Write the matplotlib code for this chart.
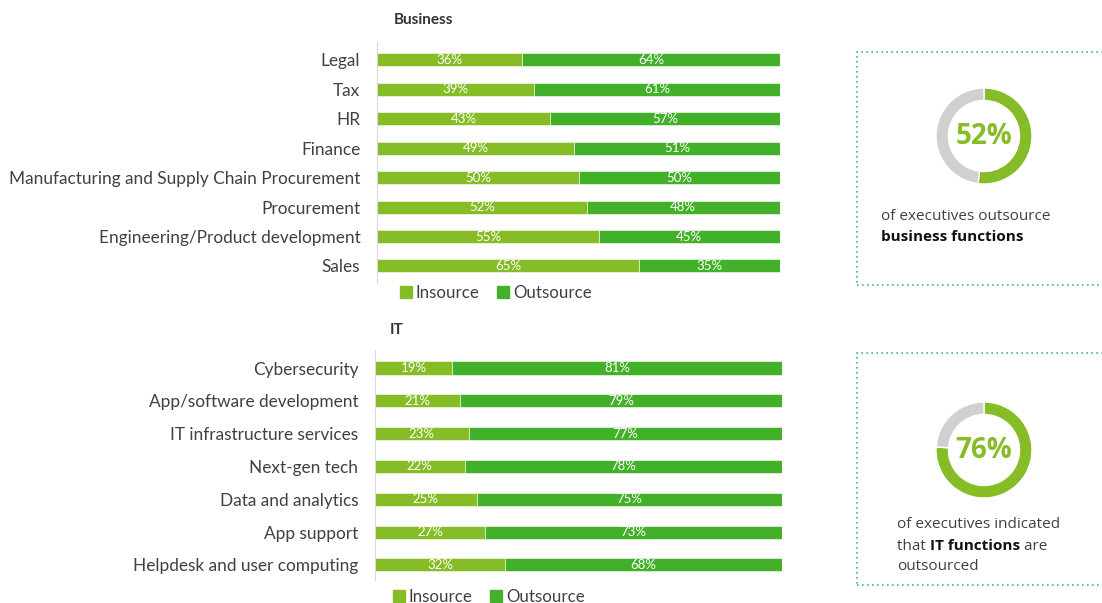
import matplotlib
matplotlib.use("Agg")
import matplotlib.pyplot as plt
from matplotlib.patches import Rectangle, Patch

# data
biz_labels = ["Legal", "Tax", "HR", "Finance", "Manufacturing and Supply Chain Procurement",
              "Procurement", "Engineering/Product development", "Sales"]
biz_in = [36, 39, 43, 49, 50, 52, 55, 65]
biz_out = [64, 61, 57, 51, 50, 48, 45, 35]

it_labels = ["Cybersecurity", "App/software development", "IT infrastructure services",
             "Next-gen tech", "Data and analytics", "App support", "Helpdesk and user computing"]
it_in = [19, 21, 23, 22, 25, 27, 32]
it_out = [81, 79, 77, 78, 75, 73, 68]

donut_biz = [52, 48]
donut_it = [76, 24]

C_IN = "#86BC25"
C_OUT = "#43B02A"
C_GREY = "#D0D0D0"
C_TXT = "#404040"
W, H = 1102, 603

plt.rcParams['font.family'] = ['Lato', 'DejaVu Sans']
fig = plt.figure(figsize=(W / 100, H / 100), dpi=100)


def px(x0, y0, x1, y1):
    # pixel box (top-left origin) -> figure fraction rect
    return [x0 / W, 1 - y1 / H, (x1 - x0) / W, (y1 - y0) / H]


def bars(rect, labels, vin, vout, ylim, h):
    ax = fig.add_axes(rect)
    y = list(range(len(labels)))
    ax.barh(y, vin, height=h, color=C_IN, edgecolor="white", linewidth=0.4)
    ax.barh(y, vout, left=vin, height=h, color=C_OUT, edgecolor="white", linewidth=0.4)
    for i in y:
        ax.text(vin[i] / 2, i, f"{vin[i]}%", ha="center", va="center",
                color="white", fontsize=9.5)
        ax.text(vin[i] + vout[i] / 2, i, f"{vout[i]}%", ha="center", va="center",
                color="white", fontsize=9.5)
    ax.set_xlim(0, 100)
    ax.set_ylim(*ylim)
    ax.set_yticks(y)
    ax.set_yticklabels(labels, fontsize=12.4, color=C_TXT)
    ax.tick_params(axis="y", length=0, pad=12)
    ax.set_xticks([])
    for s in ["top", "right", "bottom"]:
        ax.spines[s].set_visible(False)
    ax.spines["left"].set_color("#D9D9D9")
    return ax


bars(px(377, 42, 780, 283), biz_labels, biz_in, biz_out, (7.58, -0.61), 0.44)
bars(px(375, 350, 782, 580), it_labels, it_in, it_out, (6.46, -0.55), 0.40)

fig.text(394 / W, 1 - 20 / H, "Business", fontsize=11, fontweight="bold", color="#333333", va="center")
fig.text(390 / W, 1 - 330 / H, "IT", fontsize=11, fontweight="bold", color="#333333", va="center")

handles = [Patch(color=C_IN, label="Insource"), Patch(color=C_OUT, label="Outsource")]
for lx, ly in [(393, 293), (386, 597)]:
    fig.legend(handles=handles, loc="center left", bbox_to_anchor=(lx / W, 1 - ly / H),
               ncol=2, frameon=False, fontsize=12.2, handlelength=0.7, handleheight=0.7,
               handletextpad=0.25, columnspacing=1.0, labelcolor=C_TXT, borderaxespad=0)


def donut(cx, cy, vals, label):
    r = 48
    ax = fig.add_axes(px(cx - r, cy - r, cx + r, cy + r))
    ax.pie(vals, colors=[C_IN, C_GREY], startangle=90, counterclock=False,
           radius=1, wedgeprops=dict(width=0.26, edgecolor="white", linewidth=1))
    ax.set_xlim(-1, 1)
    ax.set_ylim(-1, 1)
    ax.set_aspect("equal")
    ax.text(0, 0, label, ha="center", va="center", fontsize=20, fontweight="bold",
            color=C_IN, family=["Open Sans", "DejaVu Sans"])


donut(984, 136, donut_biz, f"{donut_biz[0]}%")
donut(984, 450, donut_it, f"{donut_it[0]}%")

# dotted call-out boxes
for y0, y1 in [(52, 285), (353, 585)]:
    fig.add_artist(Rectangle((857 / W, 1 - y1 / H), 300 / W, (y1 - y0) / H,
                             transform=fig.transFigure, fill=False, edgecolor="#3CC46E",
                             linewidth=1.2, linestyle=(0, (1, 2)), clip_on=False))

cap = dict(fontsize=11, color=C_TXT, family=["Open Sans", "DejaVu Sans"], va="center")
fig.text(881 / W, 1 - 217 / H, "of executives outsource", **cap)
fig.text(881 / W, 1 - 237 / H, "business functions", fontweight="bold",
         **{**cap, "color": "#111111"})

fig.text(897 / W, 1 - 525 / H, "of executives indicated", **cap)
t = fig.text(897 / W, 1 - 546 / H, "that ", **cap)
fig.canvas.draw()
r = fig.canvas.get_renderer()
bb = t.get_window_extent(r)
t2 = fig.text(bb.x1 / W, 1 - 546 / H, "IT functions", fontweight="bold",
              **{**cap, "color": "#111111"})
bb2 = t2.get_window_extent(r)
fig.text(bb2.x1 / W, 1 - 546 / H, " are", **cap)
fig.text(897 / W, 1 - 567 / H, "outsourced", **cap)

fig.savefig("out.png", dpi=100, facecolor="white")
